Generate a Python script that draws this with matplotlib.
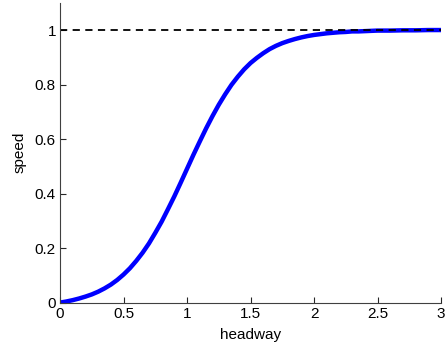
import matplotlib
matplotlib.use("Agg")
import matplotlib.pyplot as plt

plt.rcParams['font.family'] = ['Liberation Sans', 'DejaVu Sans']

# values
headway = [0.0, 0.05, 0.1, 0.15, 0.2, 0.25, 0.3, 0.35, 0.4, 0.45, 0.5,
           0.55, 0.6, 0.65, 0.7, 0.75, 0.8, 0.85, 0.9, 0.95, 1.0,
           1.05, 1.1, 1.15, 1.2, 1.25, 1.3, 1.35, 1.4, 1.45, 1.5,
           1.55, 1.6, 1.65, 1.7, 1.75, 1.8, 1.85, 1.9, 1.95, 2.0,
           2.05, 2.1, 2.15, 2.2, 2.25, 2.3, 2.35, 2.4, 2.45, 2.5,
           2.6, 2.7, 2.8, 2.9, 3.0]
speed = [0.000, 0.004, 0.009, 0.015, 0.022, 0.030, 0.040, 0.052, 0.066, 0.083, 0.103,
         0.126, 0.153, 0.183, 0.217, 0.256, 0.297, 0.343, 0.390, 0.440, 0.491,
         0.542, 0.591, 0.639, 0.684, 0.726, 0.764, 0.799, 0.829, 0.856, 0.879,
         0.898, 0.915, 0.930, 0.942, 0.952, 0.960, 0.967, 0.973, 0.978, 0.982,
         0.985, 0.988, 0.990, 0.992, 0.993, 0.995, 0.995, 0.996, 0.997, 0.998,
         0.998, 0.999, 0.999, 1.000, 1.000]
vmax = 1.0

fig = plt.figure(figsize=(4.45, 3.49), dpi=100)
ax = fig.add_axes([0.135, 0.133, 0.856, 0.859])

ax.plot(headway, speed, color=(0, 0, 1), lw=3.2, solid_capstyle='butt')
ax.plot([headway[0], headway[-1]], [vmax, vmax], color='k', lw=1.3,
        dashes=(4, 3))

ax.set_xlim(0, 3)
ax.set_ylim(0, 1.1)
ax.set_xticks([0, 0.5, 1, 1.5, 2, 2.5, 3])
ax.set_xticklabels(['0', '0.5', '1', '1.5', '2', '2.5', '3'])
ax.set_yticks([0, 0.2, 0.4, 0.6, 0.8, 1])
ax.set_yticklabels(['0', '0.2', '0.4', '0.6', '0.8', '1'])
ax.tick_params(direction='in', length=4, width=0.8, labelsize=11,
               colors='#262626', pad=3)
ax.tick_params(labelcolor='k')
for s in ['top', 'right']:
    ax.spines[s].set_visible(False)
for s in ['left', 'bottom']:
    ax.spines[s].set_color('#404040')
    ax.spines[s].set_linewidth(0.8)

ax.set_xlabel('headway', fontsize=11, labelpad=5)
ax.set_ylabel('speed', fontsize=11, labelpad=6)

fig.savefig('out.png', dpi=100)
